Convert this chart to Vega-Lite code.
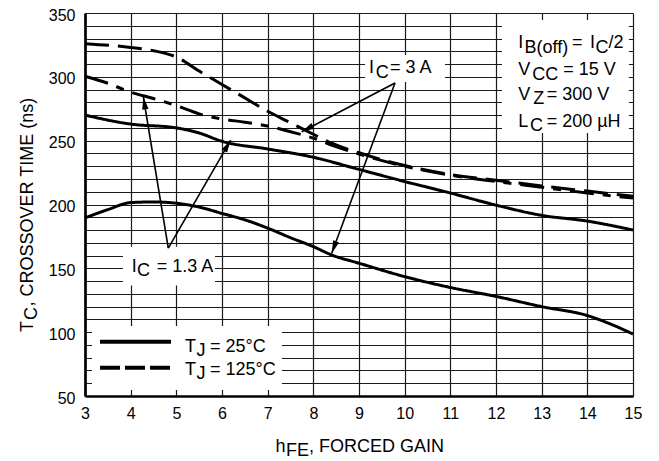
{
  "$schema": "https://vega.github.io/schema/vega-lite/v6.json",
  "autosize": {"type": "none"},
  "padding": {"left": 85, "top": 13, "right": 26, "bottom": 65},
  "width": 548,
  "height": 383,
  "background": "white",
  "config": {"view": {"stroke": null}},
  "resolve": {"scale": {"strokeDash": "independent"}},
  "datasets": {
    "curves": [
      {"series": "1.3A_25C", "x": 3, "y": 270}, {"series": "1.3A_25C", "x": 4, "y": 263}, {"series": "1.3A_25C", "x": 5, "y": 260}, {"series": "1.3A_25C", "x": 5.5, "y": 256}, {"series": "1.3A_25C", "x": 6, "y": 249.5}, {"series": "1.3A_25C", "x": 7, "y": 243.5}, {"series": "1.3A_25C", "x": 8, "y": 237}, {"series": "1.3A_25C", "x": 9, "y": 227.5}, {"series": "1.3A_25C", "x": 10, "y": 218}, {"series": "1.3A_25C", "x": 11, "y": 209}, {"series": "1.3A_25C", "x": 12, "y": 199.5}, {"series": "1.3A_25C", "x": 13, "y": 191.5}, {"series": "1.3A_25C", "x": 14, "y": 187}, {"series": "1.3A_25C", "x": 15, "y": 180},
      {"series": "3A_25C", "x": 3, "y": 189.5}, {"series": "3A_25C", "x": 3.5, "y": 196}, {"series": "3A_25C", "x": 4, "y": 201.5}, {"series": "3A_25C", "x": 4.5, "y": 202}, {"series": "3A_25C", "x": 5, "y": 201}, {"series": "3A_25C", "x": 5.5, "y": 198}, {"series": "3A_25C", "x": 6, "y": 193}, {"series": "3A_25C", "x": 6.5, "y": 188}, {"series": "3A_25C", "x": 7, "y": 181.5}, {"series": "3A_25C", "x": 7.5, "y": 174}, {"series": "3A_25C", "x": 8, "y": 167}, {"series": "3A_25C", "x": 8.4, "y": 160.5}, {"series": "3A_25C", "x": 9, "y": 154}, {"series": "3A_25C", "x": 10, "y": 143.5}, {"series": "3A_25C", "x": 11, "y": 135}, {"series": "3A_25C", "x": 12, "y": 128}, {"series": "3A_25C", "x": 13, "y": 120}, {"series": "3A_25C", "x": 14, "y": 113}, {"series": "3A_25C", "x": 14.5, "y": 106.5}, {"series": "3A_25C", "x": 15, "y": 98.5},
      {"series": "3A_125C", "x": 3, "y": 326}, {"series": "3A_125C", "x": 4, "y": 323}, {"series": "3A_125C", "x": 4.5, "y": 320.5}, {"series": "3A_125C", "x": 5, "y": 315.5}, {"series": "3A_125C", "x": 5.5, "y": 304.5}, {"series": "3A_125C", "x": 6, "y": 294}, {"series": "3A_125C", "x": 6.5, "y": 283.5}, {"series": "3A_125C", "x": 7, "y": 273}, {"series": "3A_125C", "x": 7.5, "y": 264}, {"series": "3A_125C", "x": 8, "y": 255}, {"series": "3A_125C", "x": 8.4, "y": 248}, {"series": "3A_125C", "x": 9, "y": 240.5}, {"series": "3A_125C", "x": 10, "y": 230.5}, {"series": "3A_125C", "x": 11, "y": 223.5}, {"series": "3A_125C", "x": 12, "y": 219}, {"series": "3A_125C", "x": 13, "y": 214.5}, {"series": "3A_125C", "x": 14, "y": 210.5}, {"series": "3A_125C", "x": 15, "y": 206.5},
      {"series": "1.3A_125C", "x": 3, "y": 300.5}, {"series": "1.3A_125C", "x": 3.5, "y": 295}, {"series": "1.3A_125C", "x": 4, "y": 288}, {"series": "1.3A_125C", "x": 4.5, "y": 283}, {"series": "1.3A_125C", "x": 5, "y": 277.5}, {"series": "1.3A_125C", "x": 5.5, "y": 271}, {"series": "1.3A_125C", "x": 6, "y": 267}, {"series": "1.3A_125C", "x": 6.5, "y": 264.5}, {"series": "1.3A_125C", "x": 7, "y": 261.5}, {"series": "1.3A_125C", "x": 7.5, "y": 257}, {"series": "1.3A_125C", "x": 8, "y": 252}, {"series": "1.3A_125C", "x": 8.4, "y": 246.5}, {"series": "1.3A_125C", "x": 9, "y": 239.5}, {"series": "1.3A_125C", "x": 10, "y": 230}, {"series": "1.3A_125C", "x": 11, "y": 223}, {"series": "1.3A_125C", "x": 12, "y": 218}, {"series": "1.3A_125C", "x": 13, "y": 213.5}, {"series": "1.3A_125C", "x": 14, "y": 209}, {"series": "1.3A_125C", "x": 15, "y": 205}
    ],
    "boxes": [
      {"name": "ic3", "x": 9.131, "x2": 10.883, "y": 317.1, "y2": 296.0},
      {"name": "ic13", "x": 3.832, "x2": 5.847, "y": 167.0, "y2": 136.5},
      {"name": "cond", "x": 12.131, "x2": 14.91, "y": 344.5, "y2": 256.0},
      {"name": "legend", "x": 3.153, "x2": 7.314, "y": 104.8, "y2": 54.7}
    ],
    "legendlines": [
      {"kind": "25C", "x": 3.328, "x2": 4.883, "y": 92.5},
      {"kind": "125C", "x": 3.328, "x2": 4.883, "y": 72.2}
    ],
    "arrows": [
      {"id": "A", "x": 4.824, "y": 165.9, "x2": 4.277, "y2": 284.4},
      {"id": "B", "x": 4.824, "y": 165.9, "x2": 6.19, "y2": 250.5},
      {"id": "C", "x": 9.788, "y": 295.2, "x2": 7.745, "y2": 257.0},
      {"id": "D", "x": 9.788, "y": 295.2, "x2": 8.402, "y2": 161.8}
    ],
    "heads": [
      {"id": "A", "x": 4.277, "y": 284.4},
      {"id": "B", "x": 6.19, "y": 250.5},
      {"id": "C", "x": 7.745, "y": 257.0},
      {"id": "D", "x": 8.402, "y": 161.8}
    ],
    "texts": [
      {"role": "n", "x": 9.219, "y": 302.8, "t": "I"},
      {"role": "s", "x": 9.366, "y": 302.8, "t": "C"},
      {"role": "n", "x": 9.679, "y": 302.8, "t": "= 3 A"},
      {"role": "n", "x": 4.023, "y": 147.4, "t": "I"},
      {"role": "s", "x": 4.136, "y": 147.4, "t": "C"},
      {"role": "n", "x": 4.57, "y": 147.4, "t": "= 1.3 A"},
      {"role": "n", "x": 12.488, "y": 322.3, "t": "I"},
      {"role": "s", "x": 12.624, "y": 322.3, "t": "B(off)"},
      {"role": "n", "x": 13.664, "y": 322.3, "t": "="},
      {"role": "n", "x": 14.058, "y": 322.3, "t": "I"},
      {"role": "s", "x": 14.179, "y": 322.3, "t": "C"},
      {"role": "n", "x": 14.463, "y": 322.3, "t": "/2"},
      {"role": "n", "x": 12.488, "y": 301.4, "t": "V"},
      {"role": "s", "x": 12.795, "y": 301.4, "t": "CC"},
      {"role": "n", "x": 13.474, "y": 301.4, "t": "= 15 V"},
      {"role": "n", "x": 12.488, "y": 281.9, "t": "V"},
      {"role": "s", "x": 12.817, "y": 281.9, "t": "Z"},
      {"role": "n", "x": 13.11, "y": 281.9, "t": "= 300 V"},
      {"role": "n", "x": 12.488, "y": 260.9, "t": "L"},
      {"role": "s", "x": 12.745, "y": 260.9, "t": "C"},
      {"role": "n", "x": 13.11, "y": 260.9, "t": "= 200 µH"},
      {"role": "n", "x": 5.19, "y": 84.7, "t": "T"},
      {"role": "s", "x": 5.442, "y": 84.7, "t": "J"},
      {"role": "n", "x": 5.737, "y": 84.7, "t": "= 25°C"},
      {"role": "n", "x": 5.19, "y": 66.45, "t": "T"},
      {"role": "s", "x": 5.442, "y": 66.45, "t": "J"},
      {"role": "n", "x": 5.737, "y": 66.45, "t": "= 125°C"},
      {"role": "n", "x": 7.172, "y": 6.37, "t": "h"},
      {"role": "s", "x": 7.401, "y": 6.37, "t": "FE"},
      {"role": "n", "x": 7.905, "y": 6.37, "t": ", FORCED GAIN"},
      {"role": "yn", "x": 1.861, "y": 100.13, "t": "T"},
      {"role": "ys", "x": 1.861, "y": 109.53, "t": "C"},
      {"role": "yn", "x": 1.861, "y": 120.1, "t": ", CROSSOVER TIME (ns)"}
    ]
  },
  "encoding": {
    "x": {
      "field": "x", "type": "quantitative",
      "scale": {"domain": [3, 15], "nice": false, "zero": false},
      "axis": {
        "title": null, "values": [3,4,5,6,7,8,9,10,11,12,13,14,15],
        "grid": true, "gridColor": "#1a1a1a", "gridWidth": 1.2, "gridOpacity": 1,
        "ticks": false, "tickSize": 0, "domain": true, "domainColor": "black", "domainWidth": 2.7,
        "labelFont": "Liberation Sans", "labelFontSize": 16, "labelColor": "black",
        "labelBaseline": "alphabetic", "labelPadding": 22, "labelFlush": false, "labelOverlap": false, "labelBound": false
      }
    },
    "y": {
      "field": "y", "type": "quantitative",
      "scale": {"domain": [50, 350], "nice": false, "zero": false},
      "axis": {
        "title": null,
        "values": [50,60,70,80,90,100,110,120,130,140,150,160,170,180,190,200,210,220,230,240,250,260,270,280,290,300,310,320,330,340,350],
        "labelExpr": "datum.value % 50 === 0 ? datum.label : ''",
        "grid": true, "gridColor": "#1a1a1a", "gridWidth": 1.2, "gridOpacity": 1,
        "ticks": false, "tickSize": 0, "domain": true, "domainColor": "black", "domainWidth": 2.7,
        "labelFont": "Liberation Sans", "labelFontSize": 16, "labelColor": "black",
        "labelBaseline": "alphabetic", "labelOffset": 7, "labelPadding": 10, "labelFlush": false, "labelOverlap": false, "labelBound": false
      }
    }
  },
  "layer": [
    {
      "data": {"name": "boxes"},
      "mark": {"type": "rect", "fill": "white", "stroke": null},
      "encoding": {"x2": {"field": "x2"}, "y2": {"field": "y2"}}
    },
    {
      "data": {"name": "curves"},
      "mark": {"type": "line", "color": "black", "strokeWidth": 3, "interpolate": "monotone"},
      "encoding": {
        "detail": {"field": "series"},
        "strokeDash": {
          "field": "series", "type": "nominal", "legend": null,
          "scale": {"domain": ["1.3A_25C", "3A_25C", "3A_125C", "1.3A_125C"], "range": [[1, 0], [1, 0], [24, 9], [24, 9, 8, 9]]}
        }
      }
    },
    {
      "data": {"name": "legendlines"},
      "transform": [{"filter": "datum.kind === '25C'"}],
      "mark": {"type": "rule", "color": "black", "strokeWidth": 4},
      "encoding": {"x2": {"field": "x2"}}
    },
    {
      "data": {"name": "legendlines"},
      "transform": [{"filter": "datum.kind === '125C'"}],
      "mark": {"type": "rule", "color": "black", "strokeWidth": 4, "strokeDash": [20, 5]},
      "encoding": {"x2": {"field": "x2"}}
    },
    {
      "data": {"name": "arrows"},
      "mark": {"type": "rule", "color": "black", "strokeWidth": 1.6},
      "encoding": {"x2": {"field": "x2"}, "y2": {"field": "y2"}}
    },
    {
      "data": {"name": "heads"},
      "transform": [{"filter": "datum.id === 'A'"}],
      "mark": {"type": "point", "shape": "M0,0 L0.5,2 L-0.5,2 Z", "size": 160, "filled": true, "fill": "black", "strokeWidth": 0, "opacity": 1, "angle": 350.6},
      "encoding": {}
    },
    {
      "data": {"name": "heads"},
      "transform": [{"filter": "datum.id === 'B'"}],
      "mark": {"type": "point", "shape": "M0,0 L0.5,2 L-0.5,2 Z", "size": 160, "filled": true, "fill": "black", "strokeWidth": 0, "opacity": 1, "angle": 30},
      "encoding": {}
    },
    {
      "data": {"name": "heads"},
      "transform": [{"filter": "datum.id === 'C'"}],
      "mark": {"type": "point", "shape": "M0,0 L0.5,2 L-0.5,2 Z", "size": 160, "filled": true, "fill": "black", "strokeWidth": 0, "opacity": 1, "angle": 242.4},
      "encoding": {}
    },
    {
      "data": {"name": "heads"},
      "transform": [{"filter": "datum.id === 'D'"}],
      "mark": {"type": "point", "shape": "M0,0 L0.5,2 L-0.5,2 Z", "size": 160, "filled": true, "fill": "black", "strokeWidth": 0, "opacity": 1, "angle": 200.4},
      "encoding": {}
    },
    {
      "data": {"name": "texts"},
      "transform": [{"filter": "datum.role === 'n'"}],
      "mark": {"type": "text", "align": "left", "baseline": "alphabetic", "font": "Liberation Sans", "fontSize": 18, "color": "black"},
      "encoding": {"text": {"field": "t"}}
    },
    {
      "data": {"name": "texts"},
      "transform": [{"filter": "datum.role === 's'"}],
      "mark": {"type": "text", "align": "left", "baseline": "alphabetic", "font": "Liberation Sans", "fontSize": 18, "color": "black", "dy": 4.5},
      "encoding": {"text": {"field": "t"}}
    },
    {
      "data": {"name": "texts"},
      "transform": [{"filter": "datum.role === 'yn'"}],
      "mark": {"type": "text", "align": "left", "baseline": "alphabetic", "font": "Liberation Sans", "fontSize": 18, "color": "black", "angle": 270},
      "encoding": {"text": {"field": "t"}}
    },
    {
      "data": {"name": "texts"},
      "transform": [{"filter": "datum.role === 'ys'"}],
      "mark": {"type": "text", "align": "left", "baseline": "alphabetic", "font": "Liberation Sans", "fontSize": 18, "color": "black", "angle": 270, "dy": 4.5},
      "encoding": {"text": {"field": "t"}}
    }
  ]
}
